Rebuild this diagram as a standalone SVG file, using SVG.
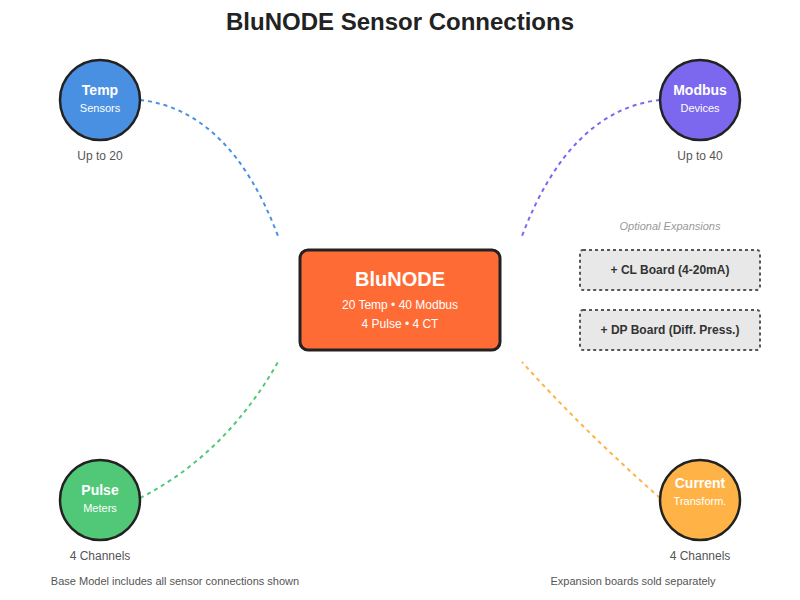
<svg xmlns="http://www.w3.org/2000/svg" width="800" height="600" viewBox="0 0 800 600">
<style>
text{font-family:"Liberation Sans",Arial,sans-serif}
.title{font-size:24px;font-weight:bold;fill:#222;text-anchor:middle}
.node{stroke:#222;stroke-width:2.5}
.nt{font-size:14px;font-weight:bold;fill:#fff;text-anchor:middle}
.ns{font-size:11px;fill:#fff;text-anchor:middle}
.cap{font-size:12px;fill:#555;text-anchor:middle}
.foot{font-size:11px;fill:#555;text-anchor:middle}
.conn{fill:none;stroke-width:2;stroke-dasharray:4,4}
.exp{fill:#e8e8e8;stroke:#555;stroke-width:2;stroke-dasharray:3,3}
.et{font-size:12px;font-weight:bold;fill:#333;text-anchor:middle}
</style>
<rect width="800" height="600" fill="#fff"/>
<text class="title" x="400" y="30">BluNODE Sensor Connections</text>
<g id="connectors">
<path class="conn" stroke="#4A90E2" d="M140,100 Q230,110 278,236"/>
<path class="conn" stroke="#7B68EE" d="M660,100 Q570,110 522,236"/>
<path class="conn" stroke="#50C878" d="M140,498 Q225,455 278,362"/>
<path class="conn" stroke="#FFB347" d="M660,498 Q585,432 522,362"/>
</g>
<g id="blunode">
<rect x="300" y="250" width="200" height="100" rx="8" fill="#FF6B35" stroke="#222" stroke-width="3"/>
<text x="400" y="286" style="font-size:20px;font-weight:bold;fill:#fff;text-anchor:middle">BluNODE</text>
<text x="400" y="309" style="font-size:12px;fill:#fff;text-anchor:middle">20 Temp • 40 Modbus</text>
<text x="400" y="328" style="font-size:12px;fill:#fff;text-anchor:middle">4 Pulse • 4 CT</text>
</g>
<g id="temp">
<circle class="node" cx="100" cy="100" r="40" fill="#4A90E2"/>
<text class="nt" x="100" y="95">Temp</text>
<text class="ns" x="100" y="112">Sensors</text>
<text class="cap" x="100" y="160">Up to 20</text>
</g>
<g id="modbus">
<circle class="node" cx="700" cy="100" r="40" fill="#7B68EE"/>
<text class="nt" x="700" y="95">Modbus</text>
<text class="ns" x="700" y="112">Devices</text>
<text class="cap" x="700" y="160">Up to 40</text>
</g>
<g id="pulse">
<circle class="node" cx="100" cy="500" r="40" fill="#50C878"/>
<text class="nt" x="100" y="495">Pulse</text>
<text class="ns" x="100" y="512">Meters</text>
<text class="cap" x="100" y="560">4 Channels</text>
</g>
<g id="current">
<circle class="node" cx="700" cy="500" r="40" fill="#FFB347"/>
<text class="nt" x="700" y="488">Current</text>
<text class="ns" x="700" y="505">Transform.</text>
<text class="cap" x="700" y="560">4 Channels</text>
</g>
<g id="expansions">
<text x="670" y="230" style="font-size:11px;font-style:italic;fill:#999;text-anchor:middle">Optional Expansions</text>
<g id="cl-board">
<rect class="exp" x="580" y="250" width="180" height="40" rx="3"/>
<text class="et" x="670" y="274">+ CL Board (4-20mA)</text>
</g>
<g id="dp-board">
<rect class="exp" x="580" y="310" width="180" height="40" rx="3"/>
<text class="et" x="670" y="334">+ DP Board (Diff. Press.)</text>
</g>
</g>
<text class="foot" x="175" y="585">Base Model includes all sensor connections shown</text>
<text class="foot" x="633" y="585">Expansion boards sold separately</text>
</svg>
